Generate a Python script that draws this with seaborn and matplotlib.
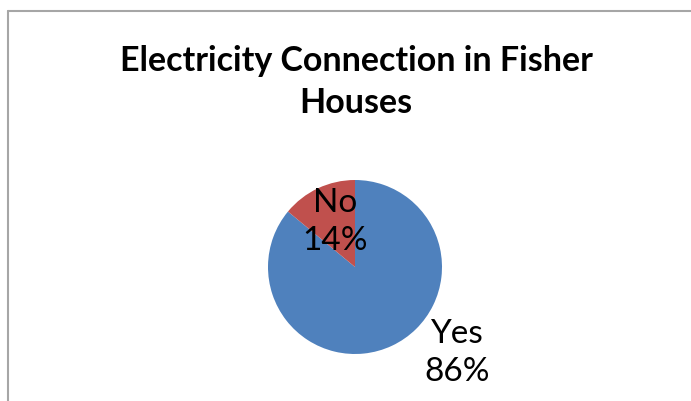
import matplotlib
matplotlib.use("Agg")
import matplotlib.pyplot as plt
import seaborn as sns

sns.set_theme(style="white")
plt.rcParams['font.family'] = ['Lato', 'DejaVu Sans']

# data
categories = ["Yes", "No"]
shares = [86, 14]
colors = ["#4F81BD", "#C0504D"]
title = "Electricity Connection in Fisher\nHouses"

W, H = 691, 401
fig = plt.figure(figsize=(W / 100, H / 100), dpi=100)
fig.patch.set_facecolor("white")

# chart frame (top and left edges visible)
fig.add_artist(plt.Line2D([8 / W, 8 / W], [0, 1 - 11 / H], color="#a6a6a6", lw=1.5))
fig.add_artist(plt.Line2D([8 / W, 1], [1 - 11 / H, 1 - 11 / H], color="#a6a6a6", lw=1.5))

cx, cy, r = 355, 267, 87
ax = fig.add_axes([(cx - r) / W, (H - cy - r) / H, 2 * r / W, 2 * r / H])
wedges, _ = ax.pie(shares, colors=colors, startangle=90, counterclock=False,
                   wedgeprops=dict(linewidth=0))
ax.set_xlim(-1, 1)
ax.set_ylim(-1, 1)
ax.axis("off")

# data labels (Excel "best fit" placement)
label_pos = {"No": (-0.23, 0.52), "Yes": (1.17, -0.99)}
for cat, val in zip(categories, shares):
    x, y = label_pos[cat]
    ax.text(x, y, f"{cat}\n{val}%", ha="center", va="center", fontsize=24,
            color="black", linespacing=1.32)

fig.text(356 / W, 1 - 82 / H, title, ha="center", va="center", fontsize=24.5,
         fontweight="bold", color="black", linespacing=1.4)

fig.savefig("out.png", dpi=100)
